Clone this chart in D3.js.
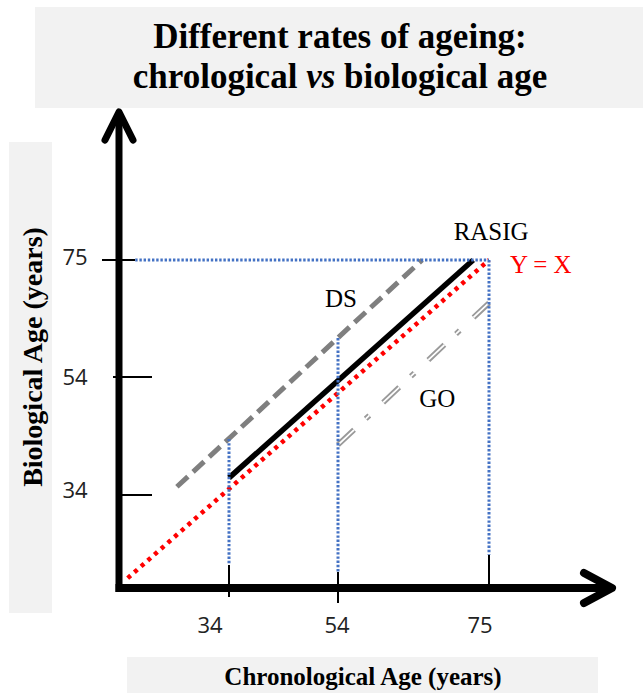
<!DOCTYPE html>
<html>
<head>
<meta charset="utf-8">
<script src="https://cdn.jsdelivr.net/npm/d3@7/dist/d3.min.js"></script>
<style>
  html, body { margin: 0; padding: 0; background: #fff; }
  svg { display: block; }
</style>
</head>
<body>
<svg id="chart" width="643" height="693"></svg>
<script>
// ---- data ----
const titleLine1 = "Different rates of ageing:";
const titleLine2 = ["chrological ", "vs", " biological age"];
const xAxisLabel = "Chronological Age (years)";
const yAxisLabel = "Biological Age (years)";
const xTickValues = [34, 54, 75];
const yTickValues = [34, 54, 75];
// reference diagonal Y = X
const lineYX = [[16.5, 19.7], [75, 75]];
// RASIG (solid black)
const lineRASIG = [[34, 36.9], [72.8, 75]];
// DS (grey dashed)
const lineDS = [[25.0, 35.4], [65.7, 75]];
// GO (grey double dash-dot)
const lineGO = [[54, 42.5], [75, 67.3]];
// blue dotted guide segments
const guides = [
  [[17.8, 75], [75, 75]],
  [[75, 75], [75, 23.7]],
  [[54, 61.0], [54, 20.8]],
  [[34, 43.5], [34, 22.0]]
];
const lineLabels = [
  { text: "RASIG", x: 75.3, y: 78.6, color: "#000" },
  { text: "Y = X", x: 82.2, y: 72.7, color: "#ff0000" },
  { text: "DS", x: 54.4, y: 66.6, color: "#000" },
  { text: "GO", x: 67.8, y: 48.9, color: "#000" }
];

// ---- scales (schematic, piecewise linear) ----
const x = d3.scaleLinear().domain([15, 34, 54, 75]).range([119, 229, 338, 489]);
const y = d3.scaleLinear().domain([18, 34, 54, 75]).range([588, 495, 377, 260]);

const svg = d3.select("#chart");
const serif = "'Liberation Serif', 'Times New Roman', serif";
const sans = "'Open Sans', 'Liberation Sans', sans-serif";

// background boxes
svg.append("rect").attr("x", 35).attr("y", 7).attr("width", 608).attr("height", 101).attr("fill", "#f2f2f2");
svg.append("rect").attr("x", 9).attr("y", 142).attr("width", 43).attr("height", 471).attr("fill", "#f2f2f2");
svg.append("rect").attr("x", 127).attr("y", 657).attr("width", 471).attr("height", 36).attr("fill", "#f2f2f2");

// title
svg.append("text").attr("x", 340).attr("y", 48).attr("text-anchor", "middle")
  .attr("font-family", serif).attr("font-weight", "bold").attr("font-size", 35)
  .text(titleLine1);
const t2 = svg.append("text").attr("x", 340).attr("y", 88).attr("text-anchor", "middle")
  .attr("font-family", serif).attr("font-weight", "bold").attr("font-size", 35);
titleLine2.forEach((s, i) => {
  t2.append("tspan").attr("font-style", i === 1 ? "italic" : "normal").text(s);
});

// axis labels
svg.append("text").attr("x", 363).attr("y", 685).attr("text-anchor", "middle")
  .attr("font-family", serif).attr("font-weight", "bold").attr("font-size", 25)
  .text(xAxisLabel);
svg.append("text").attr("transform", "translate(42,357) rotate(-90)").attr("text-anchor", "middle")
  .attr("font-family", serif).attr("font-weight", "bold").attr("font-size", 28)
  .text(yAxisLabel);

const line = d3.line().x(d => x(d[0])).y(d => y(d[1]));

// lines
svg.append("path").attr("d", line(lineDS)).attr("fill", "none")
  .attr("stroke", "#7f7f7f").attr("stroke-width", 5).attr("stroke-dasharray", "15,7");
svg.append("path").attr("d", line(lineGO)).attr("fill", "none")
  .attr("stroke", "#9a9a9a").attr("stroke-width", 5.5).attr("stroke-dasharray", "22,16,5,19");
svg.append("path").attr("d", line(lineGO)).attr("fill", "none")
  .attr("stroke", "#fff").attr("stroke-width", 1.8).attr("stroke-dasharray", "22,16,5,19");
svg.append("path").attr("d", line(lineRASIG)).attr("fill", "none")
  .attr("stroke", "#000").attr("stroke-width", 5.5);
svg.append("path").attr("d", line(lineYX)).attr("fill", "none")
  .attr("stroke", "#ff0000").attr("stroke-width", 4.5).attr("stroke-dasharray", "4,4.9");

// guides on top
svg.selectAll(".guide").data(guides).enter().append("path").attr("class", "guide")
  .attr("d", d => line(d)).attr("fill", "none")
  .attr("stroke", "#4472c4").attr("stroke-width", 3).attr("stroke-dasharray", "2.4,1.8");

// axes
const ax0 = x(15), ay0 = y(18);
svg.append("line").attr("x1", ax0).attr("y1", ay0 + 4).attr("x2", ax0).attr("y2", 112)
  .attr("stroke", "#000").attr("stroke-width", 7);
svg.append("path").attr("d", `M${ax0 - 14},140 L${ax0},112 L${ax0 + 14},140`)
  .attr("fill", "none").attr("stroke", "#000").attr("stroke-width", 7)
  .attr("stroke-linecap", "round").attr("stroke-linejoin", "round");
svg.append("line").attr("x1", ax0 - 3.5).attr("y1", ay0).attr("x2", 612).attr("y2", ay0)
  .attr("stroke", "#000").attr("stroke-width", 8);
svg.append("path").attr("d", `M584,${ay0 - 15} L612,${ay0} L584,${ay0 + 15}`)
  .attr("fill", "none").attr("stroke", "#000").attr("stroke-width", 8)
  .attr("stroke-linecap", "round").attr("stroke-linejoin", "round");

// ticks
const xTickExt = [[-23, 9], [-16, 15], [-33, 0]];
const yTickExt = [[0, 33], [-6, 33], [-17, 16]];
const xLabelDx = [-19, -1, -9];
const yLabelDy = [-5, 0, -3];
xTickValues.forEach((v, i) => {
  svg.append("line").attr("x1", x(v)).attr("x2", x(v))
    .attr("y1", ay0 + xTickExt[i][0]).attr("y2", ay0 + xTickExt[i][1])
    .attr("stroke", "#000").attr("stroke-width", 2);
  svg.append("text").attr("x", x(v) + xLabelDx[i]).attr("y", 633).attr("text-anchor", "middle")
    .attr("font-family", sans).attr("font-size", 22).attr("fill", "#222").text(v);
});
yTickValues.forEach((v, i) => {
  svg.append("line").attr("y1", y(v)).attr("y2", y(v))
    .attr("x1", ax0 + yTickExt[i][0]).attr("x2", ax0 + yTickExt[i][1])
    .attr("stroke", "#000").attr("stroke-width", 2);
  svg.append("text").attr("x", 75).attr("y", y(v) + yLabelDy[i] + 8).attr("text-anchor", "middle")
    .attr("font-family", sans).attr("font-size", 22).attr("fill", "#222").text(v);
});

// line labels
svg.selectAll(".lbl").data(lineLabels).enter().append("text").attr("class", "lbl")
  .attr("x", d => x(d.x)).attr("y", d => y(d.y)).attr("text-anchor", "middle")
  .attr("font-family", serif).attr("font-size", 25).attr("fill", d => d.color)
  .text(d => d.text);
</script>
</body>
</html>
